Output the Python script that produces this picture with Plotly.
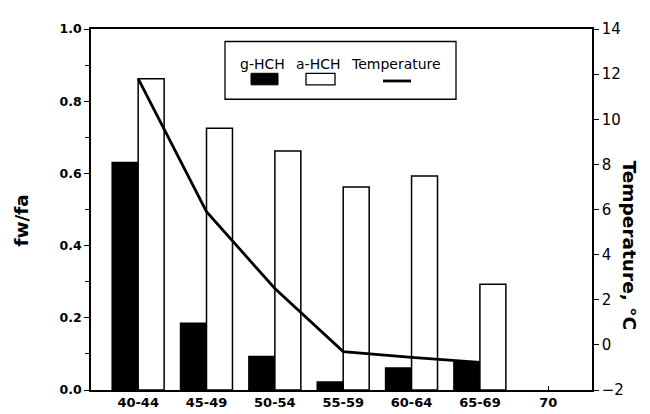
import plotly.graph_objects as go

categories = ["40-44", "45-49", "50-54", "55-59", "60-64", "65-69", "70"]
g_hch = [0.63, 0.185, 0.093, 0.022, 0.061, 0.077, None]
a_hch = [0.862, 0.725, 0.662, 0.562, 0.593, 0.293, None]
temperature = [11.8, 5.9, 2.5, -0.3, -0.55, -0.78, None]

FONT = "DejaVu Sans, Liberation Sans, sans-serif"

# plot area in pixels
L, R, T, B = 83, 584, 15, 390
W, H = 650, 414


def px_x(p):
    return (p - L) / (R - L)


def px_y(p):
    return (B - p) / (B - T)


fig = go.Figure()
fig.add_trace(go.Bar(x=categories, y=g_hch, name="g-HCH",
                     marker=dict(color="black", line=dict(color="black", width=1.5)),
                     showlegend=False))
fig.add_trace(go.Bar(x=categories, y=a_hch, name="a-HCH",
                     marker=dict(color="white", line=dict(color="black", width=1.5)),
                     showlegend=False))
fig.add_trace(go.Scatter(x=categories, y=temperature, name="Temperature", yaxis="y2",
                         mode="lines", line=dict(color="black", width=2.8),
                         showlegend=False))

shapes = [
    dict(type="rect", xref="paper", yref="paper",
         x0=px_x(217), x1=px_x(448), y0=px_y(88), y1=px_y(28),
         line=dict(color="black", width=1.3), fillcolor="white", layer="above"),
    dict(type="rect", xref="paper", yref="paper",
         x0=px_x(243), x1=px_x(270), y0=px_y(73), y1=px_y(61),
         line=dict(color="black", width=1), fillcolor="black", layer="above"),
    dict(type="rect", xref="paper", yref="paper",
         x0=px_x(298), x1=px_x(327), y0=px_y(73), y1=px_y(61),
         line=dict(color="black", width=1.3), fillcolor="white", layer="above"),
    dict(type="line", xref="paper", yref="paper",
         x0=px_x(375), x1=px_x(403), y0=px_y(69), y1=px_y(69),
         line=dict(color="black", width=2.8), layer="above"),
]


def label(text, xp, yp, size, angle=0, bold=False):
    f = dict(family=FONT, size=size, color="black")
    if bold:
        f["weight"] = "bold"
    return dict(text=text, xref="paper", yref="paper", x=px_x(xp), y=px_y(yp),
                xanchor="center", yanchor="middle", textangle=angle,
                showarrow=False, font=f)


annotations = [
    label("g-HCH", 254, 51, 14),
    label("a-HCH", 310, 51, 14),
    label("Temperature", 388, 51, 14),
    label("fw/fa", 14, 214, 18.5, angle=-90, bold=True),
    label("Temperature, °C", 621, 239, 18.5, angle=90, bold=True),
]

fig.update_layout(
    width=W, height=H,
    margin=dict(l=L, r=W - R, t=T, b=H - B, pad=0),
    paper_bgcolor="white", plot_bgcolor="white",
    barmode="group", bargap=0.24, bargroupgap=0,
    font=dict(family=FONT, color="black"),
    shapes=shapes, annotations=annotations,
    xaxis=dict(type="category", range=[-0.69, 6.64],
               showline=True, linecolor="black", linewidth=1.5, mirror=True,
               ticks="inside", ticklen=4, tickcolor="black",
               showgrid=False, zeroline=False,
               tickfont=dict(family=FONT, size=13, weight="bold")),
    yaxis=dict(range=[0, 1], dtick=0.2, tickformat=".1f",
               showline=True, linecolor="black", linewidth=1.5,
               ticks="outside", ticklen=5, tickcolor="black",
               minor=dict(dtick=0.1, ticks="outside", ticklen=4, tickcolor="black"),
               showgrid=False, zeroline=False,
               tickfont=dict(family=FONT, size=12.5, weight="bold")),
    yaxis2=dict(range=[-2, 14], dtick=2, overlaying="y", side="right",
                showline=True, linecolor="black", linewidth=1.5,
                ticks="outside", ticklen=5, tickcolor="black",
                showgrid=False, zeroline=False,
                tickfont=dict(family=FONT, size=15)),
)

fig.write_html("out.html")
